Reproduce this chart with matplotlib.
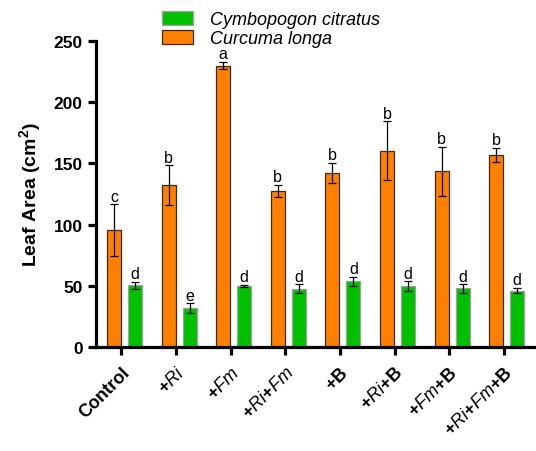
import numpy as np
import matplotlib
matplotlib.use("Agg")
import matplotlib.pyplot as plt
from matplotlib.patches import Patch

plt.rcParams["font.family"] = ["Liberation Sans", "DejaVu Sans"]
plt.rcParams["mathtext.fontset"] = "custom"
plt.rcParams["mathtext.rm"] = "Liberation Sans"
plt.rcParams["mathtext.it"] = "Liberation Sans:italic"
plt.rcParams["mathtext.bf"] = "Liberation Sans:bold"

treatments = ["Control", r"$\mathbf{+}\mathit{Ri}$", r"$\mathbf{+}\mathit{Fm}$",
              r"$\mathbf{+}\mathit{Ri}\mathbf{+}\mathit{Fm}$", r"$\mathbf{+B}$",
              r"$\mathbf{+}\mathit{Ri}\mathbf{+B}$", r"$\mathbf{+}\mathit{Fm}\mathbf{+B}$",
              r"$\mathbf{+}\mathit{Ri}\mathbf{+}\mathit{Fm}\mathbf{+B}$"]

curcuma = [95.6, 132.4, 229.8, 127.7, 142.4, 160.4, 143.8, 157.0]
curcuma_err = [21.0, 16.0, 3.0, 5.0, 8.0, 24.0, 20.0, 6.0]
curcuma_letters = ["c", "b", "a", "b", "b", "b", "b", "b"]

cymbo = [50.4, 31.6, 50.0, 47.6, 53.6, 49.8, 47.9, 46.0]
cymbo_err = [3.0, 4.0, 1.0, 3.5, 4.0, 4.0, 3.5, 2.2]
cymbo_letters = ["d", "e", "d", "d", "d", "d", "d", "d"]

orange = "#FF8000"
green = "#00C000"

fig = plt.figure(figsize=(5.36, 4.52), dpi=100)
ax = fig.add_axes([0.179, 0.23, 0.821, 0.677])

x = np.arange(len(treatments))
w = 0.256
xo = x - 0.137
xg = x + 0.247

ax.bar(xo, curcuma, w, color=orange, edgecolor="#3a2a1a", linewidth=0.9, zorder=2)
ax.bar(xg, cymbo, w, color=green, edgecolor="#a0a0a0", linewidth=0.9, zorder=2)
ax.errorbar(xo, curcuma, yerr=curcuma_err, fmt="none", ecolor="black",
            elinewidth=0.9, capsize=3.2, capthick=0.9, zorder=3)
ax.errorbar(xg, cymbo, yerr=cymbo_err, fmt="none", ecolor="black",
            elinewidth=0.9, capsize=3.2, capthick=0.9, zorder=3)

# significance letters above each error bar
for xi, v, e, s in zip(xo, curcuma, curcuma_err, curcuma_letters):
    ax.text(xi, v + e + 0.5, s, ha="center", va="bottom", fontsize=11.5)
for xi, v, e, s in zip(xg, cymbo, cymbo_err, cymbo_letters):
    ax.text(xi, v + e + 0.5, s, ha="center", va="bottom", fontsize=11.5)

ax.set_xlim(-0.467, 7.59)
ax.set_ylim(0, 250)
ax.set_yticks([0, 50, 100, 150, 200, 250])
ax.set_xticks(x)
ax.set_xticklabels(treatments, rotation=45, ha="right", rotation_mode="anchor",
                   fontsize=13, fontweight="bold")
for lab in ax.get_yticklabels():
    lab.set_fontweight("bold")
    lab.set_fontsize(12.5)

for side in ["top", "right"]:
    ax.spines[side].set_visible(False)
for side in ["left", "bottom"]:
    ax.spines[side].set_linewidth(2.3)
ax.tick_params(axis="both", width=2.3, length=6, direction="out")
ax.tick_params(axis="x", pad=6)

ax.set_ylabel(r"Leaf Area (cm$^\mathbf{2}$)", fontsize=14, fontweight="bold", labelpad=8)

handles = [Patch(facecolor=green, edgecolor="#a0a0a0", linewidth=0.9),
           Patch(facecolor=orange, edgecolor="#3a2a1a", linewidth=0.9)]
fig.legend(handles, ["Cymbopogon citratus", "Curcuma longa"],
           loc="upper left", bbox_to_anchor=(0.302, 0.973), frameon=False,
           borderpad=0, borderaxespad=0,
           prop={"style": "italic", "size": 13}, handlelength=1.7,
           handleheight=0.75, labelspacing=0.12, handletextpad=0.95)

fig.savefig("out.png", dpi=100)
